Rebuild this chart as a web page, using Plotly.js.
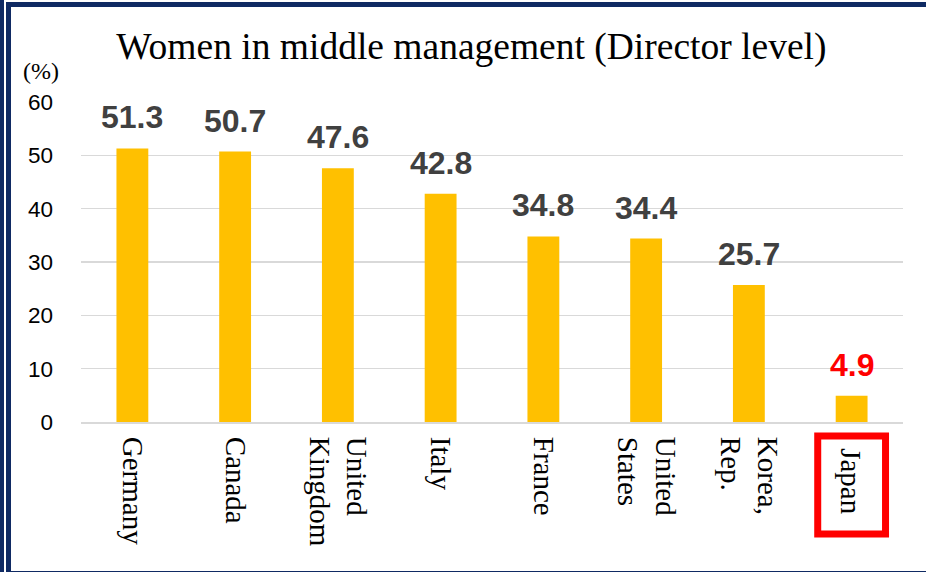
<!DOCTYPE html>
<html>
<head>
<meta charset="utf-8">
<script src="https://cdn.plot.ly/plotly-3.0.1.min.js"></script>
<style>
  html, body { margin: 0; padding: 0; background: #ffffff; }
  #wrap { position: relative; width: 926px; height: 572px; overflow: hidden; background: #fff; }
  #chart { position: absolute; left: 0; top: 0; width: 926px; height: 572px; }
  .bar1 { position: absolute; left: 0; top: 0; width: 4px; height: 572px; background: #0f2a63; z-index: 5; }
  .frame { position: absolute; left: 6px; top: 2px; width: 930px; height: 564px;
           border-left: 5px solid #0f2a63; border-top: 5px solid #0f2a63; border-bottom: 3px solid #0f2a63; z-index: 5; pointer-events: none; }
</style>
</head>
<body>
<div id="wrap">
  <div id="chart"></div>
  <div class="bar1"></div>
  <div class="frame"></div>
</div>
<script>
const categories = ["Germany", "Canada", "United Kingdom", "Italy", "France", "United States", "Korea, Rep.", "Japan"];
const tickLabels = ["Germany", "Canada", "United<br>Kingdom", "Italy", "France", "United<br>States", "Korea,<br>Rep.", ""];
const values = [51.3, 50.7, 47.6, 42.8, 34.8, 34.4, 25.7, 4.9];
const labelColors = ["#404040", "#404040", "#404040", "#404040", "#404040", "#404040", "#404040", "#ff0000"];
const highlight = "Japan";

const hiIndex = categories.indexOf(highlight);
const serif = 'Liberation Serif, Times New Roman, serif';
const sans = 'Liberation Sans, Arial, sans-serif';

const annotations = categories.map((c, i) => ({
  x: c, y: values[i], xref: 'x', yref: 'y',
  text: values[i].toFixed(1), showarrow: false,
  yanchor: 'bottom', yshift: 11,
  font: { family: sans, size: 32, color: labelColors[i], weight: 'bold' }
}));
annotations.push({
  x: -0.049, y: 1.097, xref: 'paper', yref: 'paper', text: '(%)', showarrow: false,
  xanchor: 'center', yanchor: 'middle',
  font: { family: serif, size: 24, color: '#000' }
});
// highlighted category label, drawn inside its red box
annotations.push({
  x: highlight, y: -0.187, xref: 'x', yref: 'paper', text: highlight, showarrow: false,
  textangle: 90, xanchor: 'center', yanchor: 'middle',
  font: { family: serif, size: 29, color: '#000' }
});

const data = [{
  type: 'bar', x: categories, y: values,
  marker: { color: '#ffc000' },
  hoverinfo: 'skip'
}];

const layout = {
  width: 926, height: 572,
  margin: { l: 81, r: 23, t: 102, b: 150 },
  paper_bgcolor: '#ffffff', plot_bgcolor: '#ffffff',
  showlegend: false,
  bargap: 0.69,
  title: {
    text: 'Women in middle management (Director level)',
    x: 0.509, xref: 'container', xanchor: 'center',
    y: 0.92, yref: 'container', yanchor: 'middle',
    font: { family: serif, size: 37.5, color: '#000' }
  },
  xaxis: {
    type: 'category',
    tickvals: categories, ticktext: tickLabels,
    tickangle: 90,
    tickfont: { family: serif, size: 29, color: '#000' },
    showline: true, linecolor: '#d9d9d9', linewidth: 2,
    showgrid: false, ticks: '', ticklabelstandoff: 7,
    fixedrange: true
  },
  yaxis: {
    range: [0, 60], dtick: 10, tick0: 0,
    showgrid: true, gridcolor: '#d9d9d9', gridwidth: 1.5,
    zeroline: false, showline: false, ticks: '',
    tickfont: { family: sans, size: 22.5, color: '#000' },
    ticklabelstandoff: 27,
    fixedrange: true
  },
  annotations: annotations,
  shapes: [{
    type: 'rect', xref: 'x', yref: 'paper',
    x0: hiIndex - 0.33, x1: hiIndex + 0.33, y0: -0.044, y1: -0.35,
    line: { color: '#ff0000', width: 7 }, fillcolor: 'rgba(0,0,0,0)'
  }]
};

Plotly.newPlot('chart', data, layout, { displayModeBar: false, staticPlot: true });
</script>
</body>
</html>
